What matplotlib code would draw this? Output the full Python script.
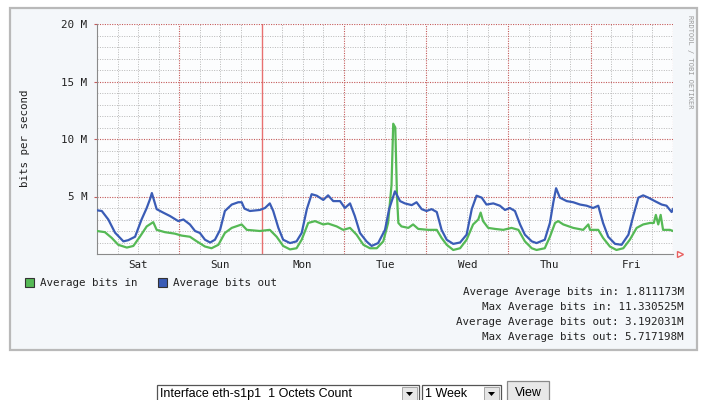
import matplotlib
matplotlib.use("Agg")
import matplotlib.pyplot as plt
from matplotlib.patches import Rectangle, Polygon

# traffic over one week, hours since Sat 00:00, values in Mbit/s
hours_out = [0, 1.4, 3.3, 5.25, 7.7, 9.1, 11.1, 13.0, 14.5, 15.5, 16.0, 16.7, 17.4, 19.3, 21.3, 23.7,
             25.2, 27.1, 28.6, 30.0, 31.5, 33.0, 34.4, 35.9, 37.3, 39.3, 41.2, 42.2, 43.0,
             44.6, 47.5, 49.0, 50.4, 51.4, 52.9, 54.3, 56.3, 58.2, 59.7, 61.2, 62.6, 64.1, 66.0,
             67.4, 68.9, 70.9, 72.3, 73.8, 75.2, 76.7, 78.6, 80.1, 82.0, 84.0, 85.2, 86.9, 88.4,
             89.8, 91.8, 93.2, 94.7, 96.1, 97.6, 99.1, 100.5, 102.0, 103.9, 105.9, 107.8, 109.3,
             110.7, 112.2, 113.6, 115.6, 117.5, 119.0, 120.4, 121.9, 123.4, 124.8, 126.8, 128.2,
             130.6, 132.1, 133.1, 133.9, 135.0, 137.0, 138.9, 140.9, 142.8, 144.7, 146.2, 147.6,
             149.1, 151.1, 153.0, 155.0, 156.4, 157.9, 159.3, 160.8, 162.7, 164.7, 166.1, 167.6, 168]
bits_out = [3.8, 3.74, 3.0, 1.86, 1.1, 1.2, 1.5, 3.0, 4.0, 4.8, 5.3, 4.6, 3.9, 3.6, 3.3, 2.86,
            3.0, 2.57, 2.0, 1.83, 1.24, 1.0, 1.24, 2.1, 3.74, 4.3, 4.5, 4.5, 3.95,
            3.74, 3.83, 4.0, 4.4, 3.74, 2.27, 1.24, 0.95, 1.1, 1.83, 3.9, 5.2, 5.07, 4.7,
            5.1, 4.6, 4.6, 4.0, 4.4, 3.3, 1.83, 1.1, 0.7, 0.95, 2.1, 3.9, 5.45, 4.6,
            4.4, 4.25, 4.5, 3.9, 3.74, 3.9, 3.65, 2.1, 1.24, 0.88, 1.0, 1.68, 3.9,
            5.07, 4.9, 4.3, 4.4, 4.2, 3.83, 4.0, 3.74, 2.57, 1.68, 1.1, 0.95,
            1.24, 2.7, 4.5, 5.72, 4.9, 4.6, 4.5, 4.3, 4.2, 4.0, 4.2, 2.7,
            1.5, 0.88, 0.8, 1.68, 3.3, 4.9, 5.1, 4.9, 4.6, 4.3, 4.2, 3.65, 3.9]

hours_in = [0, 2.3, 4.3, 6.2, 8.7, 10.6, 12.5, 14.5, 16.4, 17.4, 19.8, 22.7, 24.7, 27.1, 29.1,
            31.5, 33.4, 35.4, 37.3, 39.3, 42.2, 43.7, 47.5, 50.4, 52.4, 54.3, 56.3, 58.2, 59.7,
            61.6, 63.6, 66.0, 67.4, 69.9, 71.8, 73.8, 75.7, 77.7, 79.6, 81.6, 83.5, 84.9, 85.9,
            86.4, 87.0, 87.5, 87.9, 88.8, 90.8, 92.2, 93.7, 96.6, 99.1, 100.5, 102.0, 103.9,
            105.9, 107.8, 109.7, 111.2, 111.9, 112.6, 114.1, 116.1, 118.5, 120.9, 122.9, 124.8,
            126.8, 128.2, 130.6, 132.1, 133.6, 134.5, 136.0, 138.9, 141.8, 143.3, 143.8, 146.2,
            147.6, 149.6, 151.5, 153.5, 155.4, 157.4, 159.3, 161.3, 162.4, 163.0, 163.7, 164.4,
            165.1, 167.1, 168]
bits_in = [2.0, 1.9, 1.4, 0.8, 0.56, 0.7, 1.5, 2.4, 2.77, 2.1, 1.9, 1.77, 1.6, 1.5, 1.1,
           0.65, 0.5, 0.8, 1.83, 2.27, 2.57, 2.1, 2.0, 2.1, 1.5, 0.7, 0.4, 0.5, 1.24,
           2.7, 2.86, 2.57, 2.65, 2.4, 2.1, 2.27, 1.68, 0.8, 0.5, 0.5, 1.1, 2.7, 6.0,
           11.33, 11.0, 5.0, 2.7, 2.4, 2.27, 2.57, 2.18, 2.1, 2.1, 1.4, 0.8, 0.35,
           0.5, 1.24, 2.57, 3.0, 3.6, 2.86, 2.27, 2.18, 2.1, 2.27, 2.1, 1.1,
           0.5, 0.35, 0.5, 1.5, 2.7, 2.86, 2.57, 2.27, 2.1, 2.57, 2.1, 2.1,
           1.4, 0.65, 0.35, 0.5, 1.24, 2.27, 2.57, 2.7, 2.7, 3.4, 2.57, 3.4,
           2.1, 2.1, 2.0]

days = ["Sat", "Sun", "Mon", "Tue", "Wed", "Thu", "Fri"]
y_ticks = [5, 10, 15, 20]
y_labels = ["5 M", "10 M", "15 M", "20 M"]
stats = ["Average Average bits in: 1.811173M",
         "Max Average bits in: 11.330525M",
         "Average Average bits out: 3.192031M",
         "Max Average bits out: 5.717198M"]

W, H = 711, 400
GREEN = "#55b955"
BLUE = "#3a5cb6"
MONO = "DejaVu Sans Mono"
GRID_RED = "#c45a5a"
GRID_GRAY = "#b8b8b8"

fig = plt.figure(figsize=(W / 100, H / 100), dpi=100)
fig.patch.set_facecolor("white")

# background layer in pixel coordinates
bg = fig.add_axes([0, 0, 1, 1], zorder=0)
bg.set_xlim(0, W)
bg.set_ylim(H, 0)
bg.axis("off")
bg.add_patch(Rectangle((10, 8), 687, 342, facecolor="#f4f7fa", edgecolor="#b9b9b9", lw=1.6))

ax = fig.add_axes([97 / W, 1 - 254 / H, 576 / W, 230 / H], zorder=1)
ax.set_facecolor("#fcfdfe")
ax.set_xlim(0, 168)
ax.set_ylim(0, 20)

# grid
for h in range(6, 168, 6):
    if h % 24:
        ax.axvline(h, color=GRID_GRAY, lw=0.7, ls=(0, (1, 1.5)), zorder=1)
for v in range(1, 20):
    if v % 5:
        ax.axhline(v, color=GRID_GRAY, lw=0.7, ls=(0, (1, 1.5)), zorder=1)
for h in range(24, 169, 24):
    if h == 48:
        ax.axvline(h, color="#e87070", lw=1.0, zorder=1)
    else:
        ax.axvline(h, color=GRID_RED, lw=0.8, ls=(0, (1, 1.2)), zorder=1)
for v in y_ticks:
    ax.axhline(v, color=GRID_RED, lw=0.8, ls=(0, (1, 1.2)), zorder=1)

ax.plot(hours_in, bits_in, color=GREEN, lw=1.6, zorder=3)
ax.plot(hours_out, bits_out, color=BLUE, lw=1.6, zorder=4)

for s in ["top", "right"]:
    ax.spines[s].set_visible(False)
for s in ["left", "bottom"]:
    ax.spines[s].set_color("#8a8a8a")
    ax.spines[s].set_linewidth(0.8)

ax.set_yticks(y_ticks)
ax.set_yticklabels(y_labels, fontfamily=MONO, fontsize=7.8, color="#222222")
ax.set_xticks([12 + 24 * i for i in range(7)])
ax.set_xticklabels(days, fontfamily=MONO, fontsize=7.8, color="#222222")
ax.tick_params(axis="x", length=0, pad=4)
ax.tick_params(axis="y", length=2, color=GRID_RED, pad=5)

# arrow at the end of the time axis
ax.plot([1.012], [0], marker=">", ms=5, mfc="white", mec="#e86060", mew=1,
        transform=ax.transAxes, clip_on=False, zorder=5)

bg.text(25, 138, "bits per second", rotation=90, ha="center", va="center",
        fontfamily=MONO, fontsize=7.8, color="#222222")
bg.text(690, 62, "RRDTOOL / TOBI OETIKER", rotation=-90, ha="center", va="center",
        fontfamily=MONO, fontsize=5, color="#9a9a9a")

# legend
bg.add_patch(Rectangle((25, 278), 9, 9, facecolor=GREEN, edgecolor="#333333", lw=0.8))
bg.text(40, 283, "Average bits in", ha="left", va="center", fontfamily=MONO, fontsize=7.8, color="#222222")
bg.add_patch(Rectangle((158, 278), 9, 9, facecolor=BLUE, edgecolor="#333333", lw=0.8))
bg.text(173, 283, "Average bits out", ha="left", va="center", fontfamily=MONO, fontsize=7.8, color="#222222")

for i, line in enumerate(stats):
    bg.text(684, 292 + 15 * i, line, ha="right", va="center", fontfamily=MONO, fontsize=7.8, color="#222222")

# form controls under the graph
def select_box(x0, x1, label):
    bg.add_patch(Rectangle((x0, 385), x1 - x0, 20, facecolor="white", edgecolor="#555555", lw=0.9))
    bg.add_patch(Rectangle((x1 - 17, 387), 15, 16, facecolor="#e6e6e6", edgecolor="#9a9a9a", lw=0.6))
    cx = x1 - 9.5
    bg.add_patch(Polygon([(cx - 3.5, 392), (cx + 3.5, 392), (cx, 396)], closed=True, facecolor="black"))
    bg.text(x0 + 3, 394, label, ha="left", va="center", fontfamily="Liberation Sans", fontsize=9, color="black")

select_box(157, 419, "Interface eth-s1p1  1 Octets Count")
select_box(422, 501, "1 Week")
bg.add_patch(Rectangle((507, 381), 42, 24, facecolor="#e8e8e8", edgecolor="#8a8a8a", lw=0.9))
bg.text(528, 393, "View", ha="center", va="center", fontfamily="Liberation Sans", fontsize=9, color="black")

fig.savefig("out.png", dpi=100)
